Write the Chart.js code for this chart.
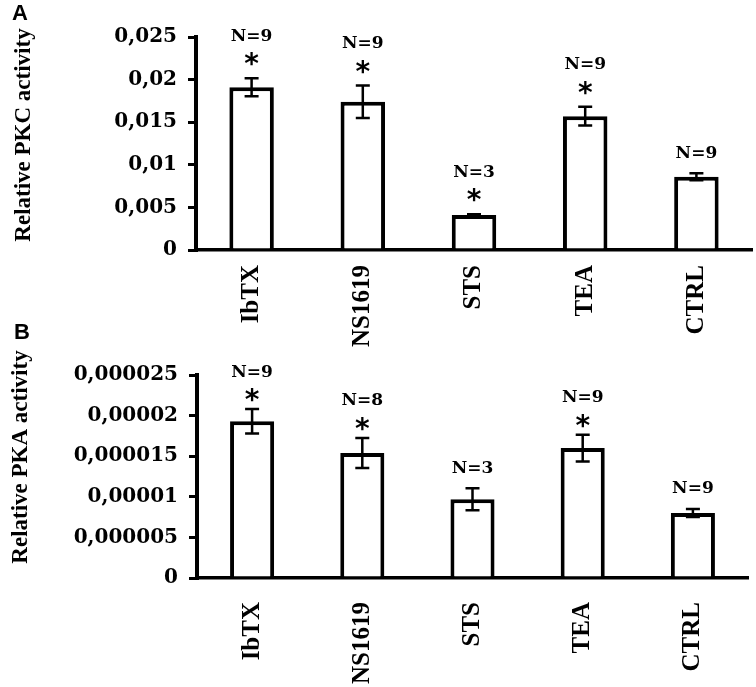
<!DOCTYPE html>
<html>
<head>
<meta charset="utf-8">
<script src="https://cdn.jsdelivr.net/npm/chart.js@4.4.0/dist/chart.umd.min.js"></script>
<style>
  html, body { margin: 0; padding: 0; background: #fff; }
  #wrap { position: relative; width: 756px; height: 687px; overflow: hidden; }
  #chartA { position: absolute; left: 0; top: 0; }
  #chartB { position: absolute; left: 0; top: 300px; }
</style>
</head>
<body>
<div id="wrap">
  <canvas id="chartA" width="756" height="360"></canvas>
  <canvas id="chartB" width="756" height="387"></canvas>
</div>
<script>
var categories = ['IbTX', 'NS1619', 'STS', 'TEA', 'CTRL'];

// panel A - PKC
var pkcMean = [0.0191, 0.0174, 0.0041, 0.0157, 0.0086];
var pkcErr = [0.00105, 0.0019, 0.0001, 0.0011, 0.0004];
var pkcN = [9, 9, 3, 9, 9];
var pkcStar = [true, true, true, true, false];
var pkcTicks = ['0', '0,005', '0,01', '0,015', '0,02', '0,025'];

// panel B - PKA
var pkaMean = [0.0000193, 0.0000154, 0.0000097, 0.000016, 0.000008];
var pkaErr = [0.0000015, 0.00000185, 0.00000135, 0.00000165, 0.0000005];
var pkaN = [9, 8, 3, 9, 9];
var pkaStar = [true, true, false, true, false];
var pkaTicks = ['0', '0,000005', '0,00001', '0,000015', '0,00002', '0,000025'];

// error bars, N labels, stars, y title and panel letter
function annotate(p) {
  return {
    id: 'annotate',
    afterDatasetsDraw: function(chart) {
      var ctx = chart.ctx, xs = chart.scales.x, ys = chart.scales.y;
      ctx.save();
      ctx.strokeStyle = '#000';
      ctx.fillStyle = '#000';
      ctx.lineWidth = 2.5;
      ctx.textAlign = 'center';
      p.mean.forEach(function(m, i) {
        var x = xs.getPixelForValue(i);
        var top = ys.getPixelForValue(m + p.err[i]);
        var bot = ys.getPixelForValue(m - p.err[i]);
        ctx.beginPath();
        ctx.moveTo(x, top); ctx.lineTo(x, bot);
        ctx.moveTo(x - 7, top); ctx.lineTo(x + 7, top);
        ctx.moveTo(x - 7, bot); ctx.lineTo(x + 7, bot);
        ctx.stroke();

        var y;
        if (p.star[i]) {
          var sy = top - p.starGap;
          ctx.font = 'bold 28px "DejaVu Sans"';
          ctx.textBaseline = 'alphabetic';
          ctx.fillText('*', x, sy + 15);
          y = sy - p.nGap;
        } else {
          y = top - 20;
        }
        ctx.font = 'bold 17px "DejaVu Serif"';
        ctx.textBaseline = 'middle';
        ctx.fillText('N=' + p.n[i], x, y);
      });

      // y axis title
      ctx.save();
      ctx.translate(p.titleX, p.titleY);
      ctx.rotate(-Math.PI / 2);
      ctx.font = 'bold 23px "Liberation Serif"';
      ctx.textBaseline = 'middle';
      ctx.fillText(p.title, 0, 0);
      ctx.restore();

      // panel letter
      ctx.font = 'bold 22px "Liberation Sans"';
      ctx.textBaseline = 'middle';
      ctx.fillText(p.letter, p.letterX, p.letterY);
      ctx.restore();
    }
  };
}

function makePanel(canvasId, p) {
  return new Chart(document.getElementById(canvasId), {
    type: 'bar',
    data: {
      labels: categories,
      datasets: [{
        data: p.mean,
        backgroundColor: '#fff',
        borderColor: '#000',
        borderWidth: 4,
        categoryPercentage: 1,
        barPercentage: 0.4
      }]
    },
    options: {
      responsive: false,
      animation: false,
      devicePixelRatio: 1,
      layout: { padding: { top: p.top, right: p.right, left: 0, bottom: 0 } },
      plugins: { legend: { display: false }, tooltip: { enabled: false } },
      scales: {
        x: {
          grid: { display: false, drawTicks: false },
          border: { display: true, color: '#000', width: 3.5 },
          ticks: {
            maxRotation: 90, minRotation: 90,
            padding: p.labelPad,
            color: '#000',
            font: { family: '"Liberation Serif", "Times New Roman", serif', size: 25, weight: 'bold' }
          },
          afterFit: function(s) { s.height = p.xHeight; s.paddingLeft = 0; s.paddingRight = 0; }
        },
        y: {
          min: 0,
          max: p.max,
          grid: { display: true, drawOnChartArea: false, drawTicks: true, tickLength: 8, color: '#000', lineWidth: 3 },
          border: { display: true, color: '#000', width: 4 },
          ticks: {
            count: p.ticks.length,
            padding: 11,
            color: '#000',
            font: { family: '"DejaVu Serif", serif', size: 20, weight: 'bold' },
            callback: function(v, i) { return p.ticks[i]; }
          },
          afterFit: function(s) { s.width = p.axisX; }
        }
      }
    },
    plugins: [annotate(p)]
  });
}

makePanel('chartA', {
  mean: pkcMean, err: pkcErr, n: pkcN, star: pkcStar, ticks: pkcTicks, max: 0.025,
  top: 37, right: 4, axisX: 196, xHeight: 110, labelPad: 15,
  starGap: 20, nGap: 22,
  title: 'Relative PKC activity', titleX: 24, titleY: 135,
  letter: 'A', letterX: 20, letterY: 14
});

makePanel('chartB', {
  mean: pkaMean, err: pkaErr, n: pkaN, star: pkaStar, ticks: pkaTicks, max: 0.000025,
  top: 75, right: 8, axisX: 197, xHeight: 109, labelPad: 24,
  starGap: 15, nGap: 22,
  title: 'Relative PKA activity', titleX: 21, titleY: 157,
  letter: 'B', letterX: 22, letterY: 33
});
</script>
</body>
</html>
